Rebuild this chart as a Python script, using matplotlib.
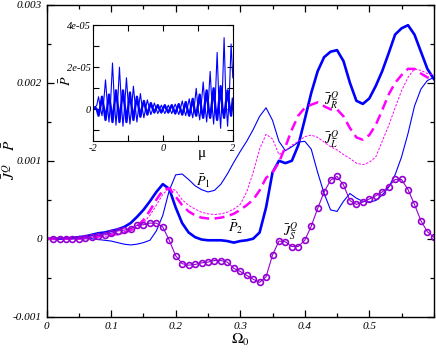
import numpy as np
import matplotlib
matplotlib.use("Agg")
import matplotlib.pyplot as plt
from matplotlib.ticker import FixedLocator, FixedFormatter, MultipleLocator

plt.rcParams['mathtext.fontset'] = 'stix'
plt.rcParams['font.family'] = ['Liberation Serif', 'DejaVu Serif']

# ---------------- data ----------------
omega = [round(0.01 * i, 2) for i in range(61)]

P2 = [0, 0, 0, 0.000005, 0.00001, 0.00002, 0.00003, 0.00005, 0.00007, 0.00008,
      0.0001, 0.00012, 0.00015, 0.0002, 0.00028, 0.00037, 0.00048, 0.0006, 0.0007, 0.00064,
      0.0004, 0.0002, 0.00008, 0.00002, -0.00001, -0.00002, -0.00002, -0.00002, -0.00003, -0.00005,
      -0.00003, -0.00002, 0.0, 0.00008, 0.0004, 0.00085, 0.001, 0.00097, 0.001, 0.0012,
      0.00153, 0.00187, 0.00215, 0.00233, 0.0024, 0.00242, 0.00228, 0.002, 0.00177, 0.00173,
      0.0018, 0.00196, 0.00215, 0.00238, 0.00262, 0.0027, 0.00274, 0.00262, 0.0024, 0.00218,
      0.00205]

P1 = [0, 0, 0, 0, 0, 0, 0, 0, -0.00001, -0.00002,
      -0.00003, -0.00005, -0.00007, -0.00008, -0.00007, -0.00005, -0.00002, 0.0001, 0.0003, 0.00062,
      0.00082, 0.00083, 0.00076, 0.00068, 0.00063, 0.0006, 0.00062, 0.0007, 0.00083, 0.00098,
      0.00112, 0.00125, 0.0014, 0.00157, 0.00168, 0.00152, 0.00125, 0.00113, 0.00118, 0.00124,
      0.00125, 0.00115, 0.00085, 0.00058, 0.00037, 0.00035, 0.00048, 0.00058, 0.00052, 0.00048,
      0.00047, 0.00049, 0.00056, 0.00066, 0.00082, 0.00105, 0.00135, 0.0017, 0.00192, 0.00203,
      0.00207]

JB = [0, 0, 0, 0, 0, 0, 0.00001, 0.00002, 0.00003, 0.00004,
      0.00005, 0.00006, 0.00008, 0.00011, 0.00016, 0.00024, 0.00036, 0.0005, 0.00062, 0.00065,
      0.00054, 0.00043, 0.00035, 0.0003, 0.00027, 0.00026, 0.00026, 0.00027, 0.00029, 0.00032,
      0.00037, 0.00043, 0.0005, 0.00062, 0.00078, 0.00085, 0.00098, 0.00118, 0.0014, 0.00158,
      0.00168, 0.00172, 0.00175, 0.0017, 0.00166, 0.00166, 0.00157, 0.00142, 0.0013, 0.00127,
      0.00133, 0.00146, 0.00165, 0.00185, 0.002, 0.0021, 0.00218, 0.00218, 0.00212, 0.00207,
      0.00205]

JL = [0, 0, 0, 0, 0, 0, 0.00001, 0.00002, 0.00002, 0.00003,
      0.00004, 0.00005, 0.00007, 0.0001, 0.00014, 0.0002, 0.0003, 0.00043, 0.00057, 0.00065,
      0.00062, 0.0005, 0.00043, 0.00038, 0.00034, 0.00032, 0.00031, 0.00032, 0.00034, 0.00038,
      0.00044, 0.0006, 0.00085, 0.00115, 0.00134, 0.00128, 0.00108, 0.00113, 0.0012, 0.00125,
      0.00131, 0.00133, 0.0013, 0.00124, 0.00118, 0.00114, 0.00108, 0.00103, 0.00097, 0.00095,
      0.00098, 0.00105, 0.00125, 0.00145, 0.00168, 0.0019, 0.00207, 0.00218, 0.00216, 0.00212,
      0.0021]

omega_s = [round(0.01 * i, 2) for i in range(1, 61)]
JS = [0, 0, 0, 0, 0, 0.00001, 0.00002, 0.00004, 0.00005, 0.00007,
      0.0001, 0.00011, 0.00013, 0.00017, 0.00018, 0.0002, 0.0002, 0.00015, -0.00002, -0.00022,
      -0.00032, -0.00034, -0.00033, -0.00031, -0.0003, -0.00028, -0.00028, -0.0003, -0.00038, -0.00042,
      -0.00047, -0.00052, -0.00056, -0.00049, -0.00021, -0.00003, -0.00004, -0.0001, -0.0001, -0.00002,
      0.00016, 0.00039, 0.0006, 0.00075, 0.0008, 0.00069, 0.00049, 0.00044, 0.00047, 0.00051,
      0.00055, 0.0006, 0.00067, 0.00076, 0.00076, 0.00063, 0.00044, 0.00023, 0.00009, 0.00002]

mu = [round(-2 + 0.05 * i, 2) for i in range(81)]
inset_thin = [0.0, 0.1, 0.2, 0.6, 0.1, -0.3, 0.4, 1.4, 0.3, -0.6,
              0.5, 2.2, 0.5, -0.75, 0.4, 2.0, 0.4, -0.8, 0.2, 1.5,
              0.3, -0.7, 0.1, 1.1, 0.2, -0.6, 0.1, 0.75, 0.1, -0.4,
              0.05, 0.45, 0.1, -0.25, 0.0, 0.3, 0.05, -0.2, 0.0, 0.2,
              0.0, -0.2, 0.0, 0.2, 0.0, -0.2, 0.05, 0.25, 0.0, -0.25,
              0.05, 0.4, 0.0, -0.3, 0.1, 0.5, 0.0, -0.4, 0.2, 1.0,
              0.1, -0.5, 0.3, 1.3, 0.2, -0.6, 0.4, 1.8, 0.3, -0.7,
              0.6, 2.7, 0.4, -0.9, 0.8, 3.4, 0.5, -0.8, 0.7, 3.1,
              1.5]
inset_thick = [0.0, 0.1, 0.0, -0.3, 0.1, 0.6, 0.1, -0.5, 0.1, 0.7,
               0.1, -0.6, 0.2, 0.9, 0.2, -0.6, 0.2, 0.9, 0.2, -0.6,
               0.1, 0.8, 0.1, -0.5, 0.1, 0.6, 0.1, -0.35, 0.1, 0.4,
               0.05, -0.25, 0.05, 0.3, 0.05, -0.15, 0.05, 0.2, 0.0, -0.15,
               0.05, 0.2, 0.0, -0.15, 0.05, 0.2, 0.0, -0.2, 0.05, 0.25,
               0.0, -0.25, 0.05, 0.35, 0.0, -0.3, 0.1, 0.5, 0.0, -0.3,
               0.2, 0.7, 0.0, -0.4, 0.3, 0.9, 0.1, -0.4, 0.3, 1.0,
               0.1, -0.5, 0.3, 1.1, 0.1, -0.4, 0.3, 0.9, 0.2, -0.3,
               0.5]
inset_scale = 1e-5

xticks = [0, 0.1, 0.2, 0.3, 0.4, 0.5]
xticklabels = ["0", "0.1", "0.2", "0.3", "0.4", "0.5"]
yticks = [-0.001, 0, 0.001, 0.002, 0.003]
yticklabels = ["-0.001", "0", "0.001", "0.002", "0.003"]
in_xticks = [-2, 0, 2]
in_xticklabels = ["-2", "0", "2"]
in_yticks = [0, 2e-5, 4e-5]
in_yticklabels = ["0", "2e-05", "4e-05"]

# ---------------- figure ----------------
fig = plt.figure(figsize=(4.36, 3.53), dpi=100)
ax = fig.add_axes([0.107, 0.103, 0.888, 0.883])

blue = '#0000FF'
mag = '#FF00FF'
viol = '#9400D3'

ax.plot(omega, P1, color=blue, lw=0.8)
ax.plot(omega, P2, color=blue, lw=1.9)
ax.plot(omega, JB, color=mag, lw=1.8, ls=(0, (4, 2.2)))
ax.plot(omega, JL, color=mag, lw=0.7, ls=(0, (2.5, 1.5)))
ax.plot(omega_s, JS, color=viol, lw=0.8, marker='o', ms=4.2, mfc='none',
        mec=viol, mew=1.2, clip_on=True)

ax.set_xlim(0, 0.6)
ax.set_ylim(-0.001, 0.003)
ax.xaxis.set_major_locator(FixedLocator(xticks))
ax.xaxis.set_major_formatter(FixedFormatter(xticklabels))
ax.xaxis.set_minor_locator(MultipleLocator(0.05))
ax.yaxis.set_major_locator(FixedLocator(yticks))
ax.yaxis.set_major_formatter(FixedFormatter(yticklabels))
ax.yaxis.set_minor_locator(MultipleLocator(0.0005))
ax.tick_params(which='both', direction='in', top=True, right=True, width=0.9)
ax.tick_params(which='major', length=5, labelsize=8)
ax.tick_params(which='minor', length=3)
for lab in ax.get_xticklabels() + ax.get_yticklabels():
    lab.set_fontstyle('italic')
for s in ax.spines.values():
    s.set_linewidth(1.0)

ax.set_xlabel(r'$\Omega_0$', fontsize=11)
ax.xaxis.set_label_coords(0.5, -0.05)
ax.set_ylabel(r'$\bar{J}^{Q}\quad\;\bar{P}$', fontsize=11)
ax.yaxis.set_label_coords(-0.075, 0.505)

tfs = 10
ax.text(0.231, 0.00068, r'$\bar{P}_1$', fontsize=tfs)
ax.text(0.281, 0.00008, r'$\bar{P}_2$', fontsize=tfs)
ax.text(0.366, 0.00004, r'$\bar{J}^{Q}_{S}$', fontsize=tfs)
ax.text(0.430, 0.00172, r'$\bar{J}^{Q}_{R}$', fontsize=tfs)
ax.text(0.430, 0.00122, r'$\bar{J}^{Q}_{L}$', fontsize=tfs)

# inset
ins = fig.add_axes([0.214, 0.6006, 0.320, 0.3284])
ins.plot(mu, [v * inset_scale for v in inset_thin], color=blue, lw=0.8)
ins.plot(mu, [v * inset_scale for v in inset_thick], color=blue, lw=1.7)
ins.set_xlim(-2, 2)
ins.set_ylim(-1.5e-5, 4e-5)
ins.xaxis.set_major_locator(FixedLocator(in_xticks))
ins.xaxis.set_major_formatter(FixedFormatter(in_xticklabels))
ins.xaxis.set_minor_locator(MultipleLocator(1))
ins.yaxis.set_major_locator(FixedLocator(in_yticks))
ins.yaxis.set_major_formatter(FixedFormatter(in_yticklabels))
ins.yaxis.set_minor_locator(MultipleLocator(1e-5))
ins.tick_params(which='both', direction='in', top=True, right=True, width=0.8)
ins.tick_params(which='major', length=4, labelsize=7.5, pad=2)
ins.tick_params(which='minor', length=4)
for lab in ins.get_xticklabels() + ins.get_yticklabels():
    lab.set_fontstyle('italic')
ins.set_ylabel(r'$\bar{P}$', fontsize=10)
ins.yaxis.set_label_coords(-0.14, 0.52)
ins.text(1.1, -0.05, 'μ', fontsize=11, transform=ins.get_xaxis_transform(),
         ha='center', va='top')

fig.savefig('out.png', dpi=100)
